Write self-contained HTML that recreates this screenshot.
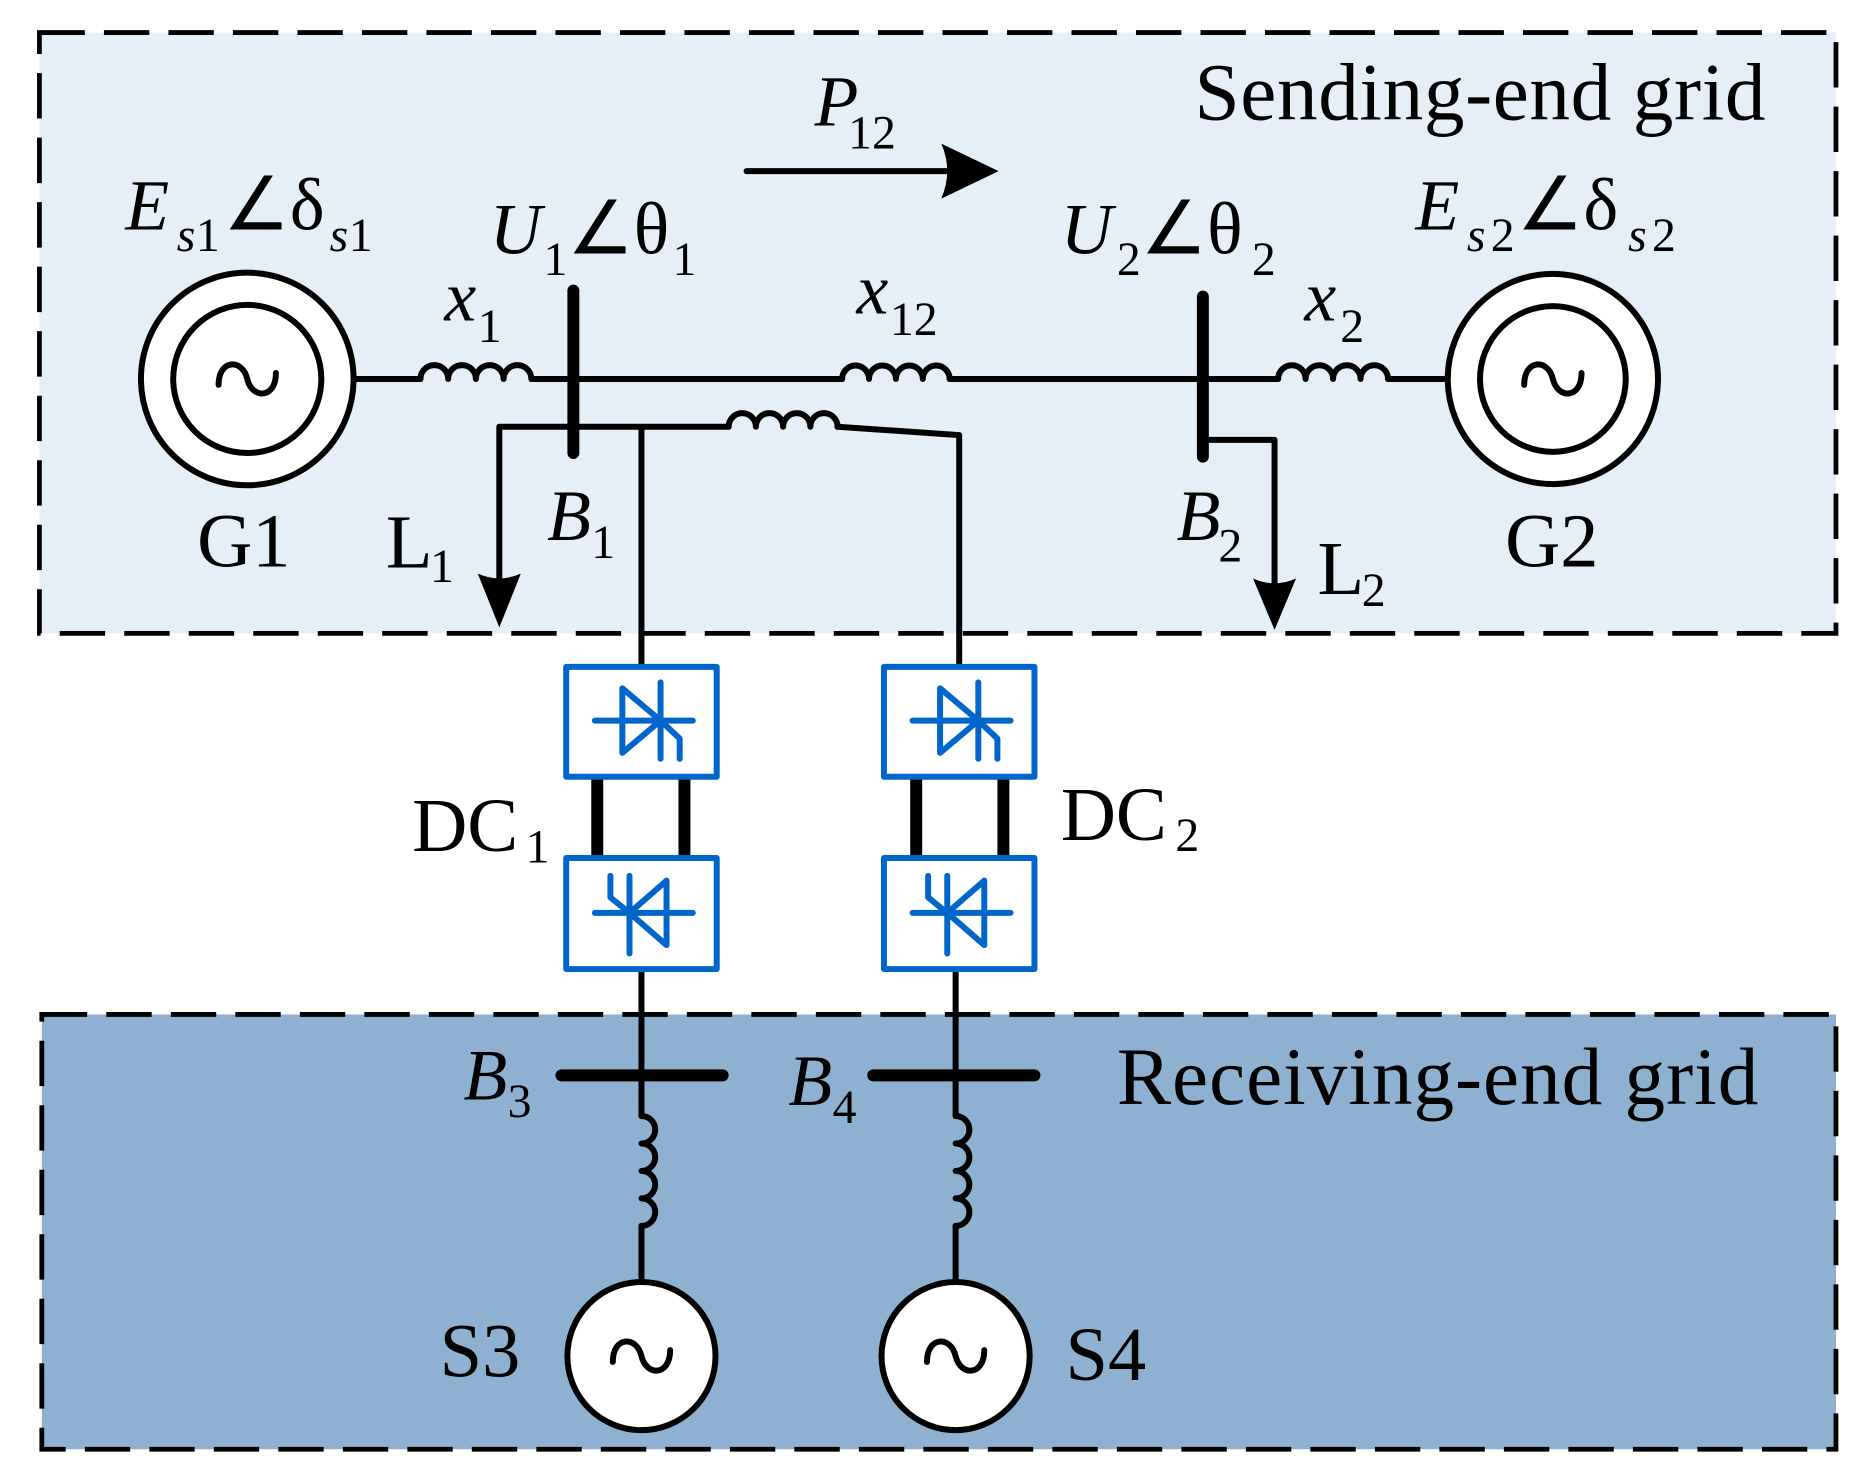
<!DOCTYPE html>
<html><head><meta charset="utf-8"><style>
html,body{margin:0;padding:0;background:#fff}
svg{display:block}
text{font-family:"Liberation Serif",serif;fill:#000}
.i{font-style:italic}
</style></head><body>
<svg width="1873" height="1483" viewBox="0 0 1568 1241" xmlns="http://www.w3.org/2000/svg">
<rect x="33" y="27" width="1504" height="503" fill="#e6eef7" stroke="#000" stroke-width="4" stroke-dasharray="38,16"/>
<rect x="35" y="849" width="1502" height="364" fill="#8eb1d2" stroke="#000" stroke-width="4" stroke-dasharray="38,16"/>

<g fill="none" stroke="#000" stroke-width="5" stroke-linecap="round" stroke-linejoin="round">
<path d="M297 317 H352 M445 317 H705 M795 317 H1070 M1162 317 H1212"/>
<path d="M352 317 a11.6 11.6 0 0 1 23.2 0 a11.6 11.6 0 0 1 23.2 0 a11.6 11.6 0 0 1 23.2 0 a11.6 11.6 0 0 1 23.2 0"/>
<path d="M705 317 a11.25 11.25 0 0 1 22.5 0 a11.25 11.25 0 0 1 22.5 0 a11.25 11.25 0 0 1 22.5 0 a11.25 11.25 0 0 1 22.5 0"/>
<path d="M1070 317 a11.5 11.5 0 0 1 23 0 a11.5 11.5 0 0 1 23 0 a11.5 11.5 0 0 1 23 0 a11.5 11.5 0 0 1 23 0"/>
<path d="M418 500 V357 H610 M701 357 L803 364 V557 M537 357 V557"/>
<path d="M610 357 a11.4 11.4 0 0 1 22.8 0 a11.4 11.4 0 0 1 22.8 0 a11.4 11.4 0 0 1 22.8 0 a11.4 11.4 0 0 1 22.8 0"/>
<path d="M1007 368 H1067 V500"/>
<path d="M537 812 V934 M537 1026 V1073 M800 812 V934 M800 1026 V1073"/>
<path d="M537 934 a11.5 11.5 0 0 1 0 23 a11.5 11.5 0 0 1 0 23 a11.5 11.5 0 0 1 0 23 a11.5 11.5 0 0 1 0 23"/>
<path d="M800 934 a11.5 11.5 0 0 1 0 23 a11.5 11.5 0 0 1 0 23 a11.5 11.5 0 0 1 0 23 a11.5 11.5 0 0 1 0 23"/>
<path d="M625 143 H800" stroke-width="5"/>
</g>
<g stroke="#000" stroke-width="10" stroke-linecap="round">
<line x1="480" y1="243" x2="480" y2="379"/>
<line x1="1007" y1="248" x2="1007" y2="382"/>
<line x1="470" y1="900" x2="605" y2="900"/>
<line x1="731" y1="900" x2="866" y2="900"/>
<line x1="500" y1="651" x2="500" y2="717" stroke-linecap="butt"/>
<line x1="573" y1="651" x2="573" y2="717" stroke-linecap="butt"/>
<line x1="767" y1="651" x2="767" y2="717" stroke-linecap="butt"/>
<line x1="840" y1="651" x2="840" y2="717" stroke-linecap="butt"/>
</g>
<path d="M400 480 L418 525 L436 480 Q418 488 400 480Z" fill="#000"/>
<path d="M1049 484 L1067 527 L1085 484 Q1067 492 1049 484Z" fill="#000"/>
<path d="M788 120 L836 143 L788 166 Q798 143 788 120Z" fill="#000"/>
<g fill="#fff" stroke="#000" stroke-width="5">
<circle cx="207" cy="317" r="89"/><circle cx="207" cy="317" r="62"/>
<circle cx="1300" cy="317" r="88"/><circle cx="1300" cy="317" r="61"/>
<circle cx="537" cy="1135" r="62"/><circle cx="800" cy="1135" r="62"/>
</g>
<g fill="none" stroke="#000" stroke-width="5" stroke-linecap="round">
<path d="M183 322 C183 300 203 300 207 317 C211 334 231 334 231 312"/>
<path d="M1276 322 C1276 300 1296 300 1300 317 C1304 334 1324 334 1324 312"/>
<path d="M513 1140 C513 1118 533 1118 537 1135 C541 1152 561 1152 561 1130"/>
<path d="M776 1140 C776 1118 796 1118 800 1135 C804 1152 824 1152 824 1130"/>
</g>
<g id="c1" fill="none" stroke="#0066cc" stroke-width="5" stroke-linecap="round" stroke-linejoin="round">
<rect x="474" y="558" width="126" height="92" fill="#fff"/>
<path d="M498 603 H580 M521 576 V630 L553 603 Z M553 571 V635 M553 603 L569 618 V635"/>
<rect x="474" y="718" width="126" height="93" fill="#fff"/>
<path d="M498 764 H580 M558 737 V791 L527 764 Z M527 733 V798 M511 733 V751 L527 764"/>
</g>
<use href="#c1" x="266"/>
<text x="1000" y="100" font-size="68" textLength="478">Sending-end grid</text>
<text x="935" y="924" font-size="68" textLength="537">Receiving-end grid</text>
<text x="682" y="105" font-size="60" class="i">P</text><text x="710" y="124" font-size="40">12</text>
<text x="105" y="192" font-size="60" class="i">E</text><text x="148" y="210" font-size="40" class="i">s</text><text x="164" y="210" font-size="40">1</text>
<text x="187" y="192" font-size="62">∠δ</text><text x="276" y="210" font-size="40" class="i">s</text><text x="292" y="210" font-size="40">1</text>
<text x="410" y="212" font-size="60" class="i">U</text><text x="455" y="230" font-size="40">1</text>
<text x="475" y="212" font-size="62">∠θ</text><text x="563" y="230" font-size="40">1</text>
<text x="888" y="212" font-size="60" class="i">U</text><text x="935" y="230" font-size="40">2</text>
<text x="955" y="212" font-size="62">∠θ</text><text x="1048" y="230" font-size="40">2</text>
<text x="1185" y="192" font-size="60" class="i">E</text><text x="1228" y="210" font-size="40" class="i">s</text><text x="1248" y="210" font-size="40">2</text>
<text x="1270" y="192" font-size="62">∠δ</text><text x="1363" y="210" font-size="40" class="i">s</text><text x="1383" y="210" font-size="40">2</text>
<text x="372" y="268" font-size="60" class="i">x</text><text x="400" y="286" font-size="40">1</text>
<text x="717" y="262" font-size="60" class="i">x</text><text x="745" y="280" font-size="40">12</text>
<text x="1092" y="268" font-size="60" class="i">x</text><text x="1122" y="286" font-size="40">2</text>
<text x="165" y="474" font-size="64">G1</text>
<text x="1260" y="474" font-size="64">G2</text>
<text x="323" y="475" font-size="64">L</text><text x="360" y="487" font-size="40">1</text>
<text x="1103" y="497" font-size="64">L</text><text x="1140" y="507" font-size="40">2</text>
<text x="458" y="452" font-size="60" class="i">B</text><text x="495" y="467" font-size="40">1</text>
<text x="985" y="452" font-size="60" class="i">B</text><text x="1020" y="470" font-size="40">2</text>
<text x="345" y="712" font-size="64">DC</text><text x="440" y="722" font-size="40">1</text>
<text x="888" y="703" font-size="64">DC</text><text x="984" y="712" font-size="40">2</text>
<text x="388" y="920" font-size="60" class="i">B</text><text x="425" y="935" font-size="40">3</text>
<text x="660" y="925" font-size="60" class="i">B</text><text x="697" y="940" font-size="40">4</text>
<text x="368" y="1152" font-size="64">S3</text>
<text x="892" y="1155" font-size="64">S4</text>
</svg>
</body></html>
